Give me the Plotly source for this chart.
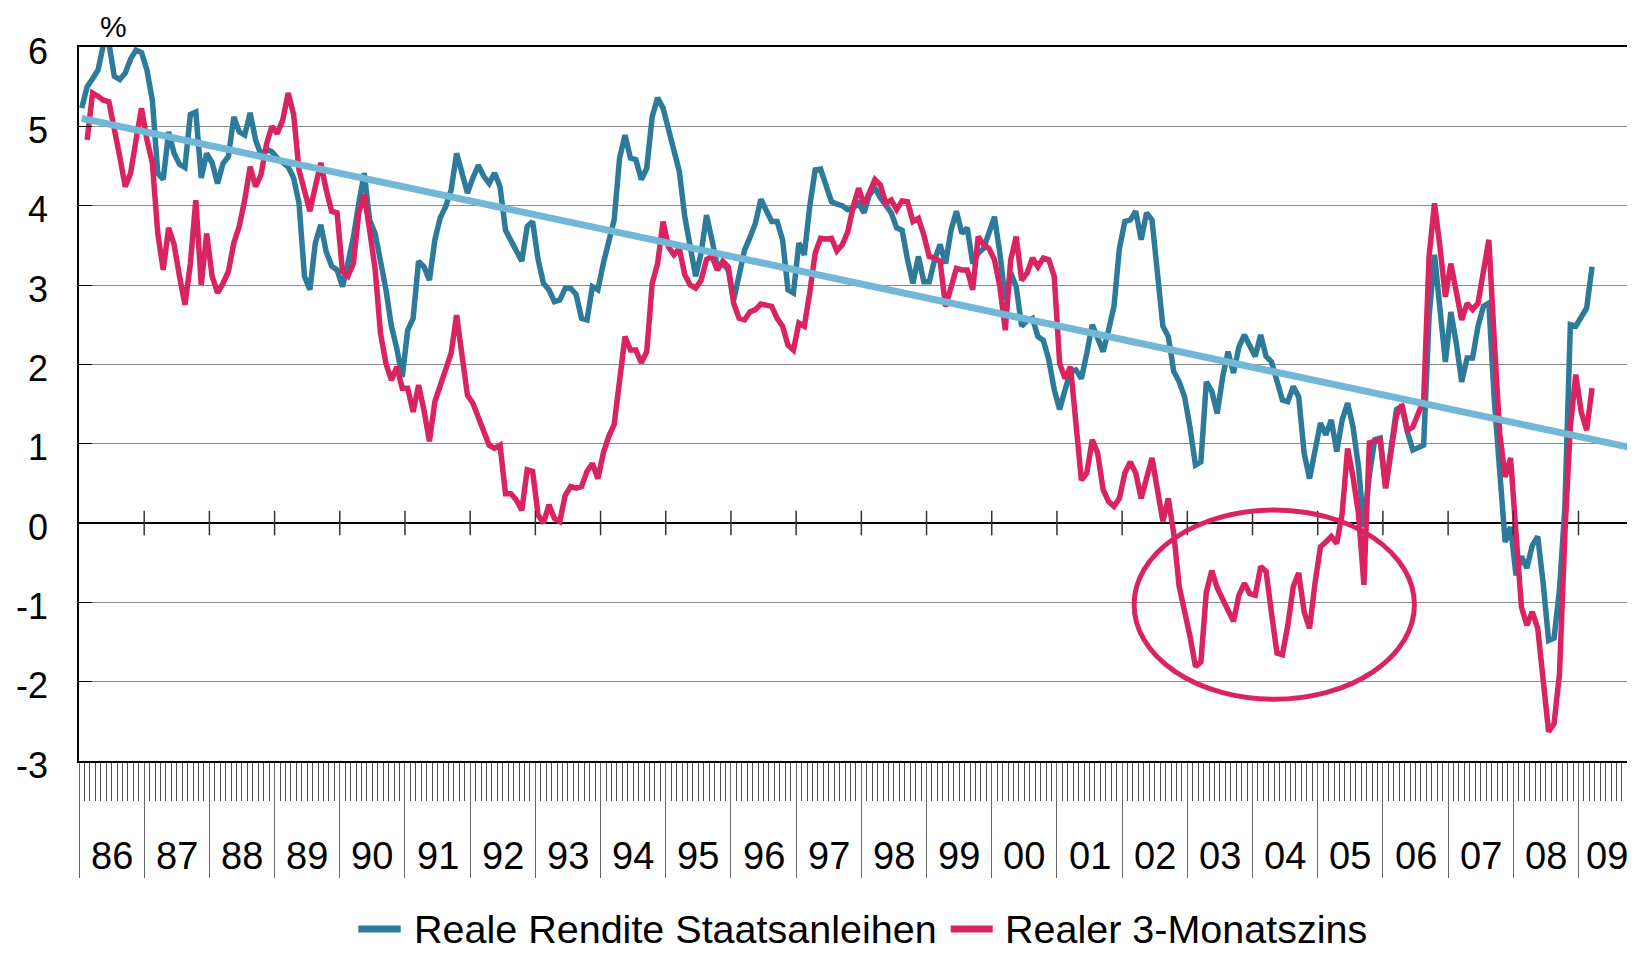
import pandas as pd
import plotly.graph_objects as go

# ---------------- data ----------------
# Reale Rendite Staatsanleihen, monthly from Jan 1986
blue_vals = [
    5.23, 5.50, 5.60, 5.71, 6.03, 6.05, 5.63, 5.59, 5.67, 5.85, 5.96, 5.93,
    5.71, 5.33, 4.41, 4.33, 4.93, 4.66, 4.52, 4.48, 5.15, 5.18, 4.35, 4.66,
    4.54, 4.28, 4.53, 4.62, 5.12, 4.93, 4.89, 5.17, 4.83, 4.64, 4.71, 4.68,
    4.60, 4.55, 4.49, 4.35, 4.03, 3.11, 2.94, 3.53, 3.76, 3.42, 3.24, 3.19,
    2.98, 3.28, 3.60, 4.03, 4.41, 3.82, 3.65, 3.30, 2.94, 2.48, 2.20, 1.84,
    2.43, 2.58, 3.30, 3.23, 3.06, 3.57, 3.85, 3.99, 4.20, 4.66, 4.40, 4.16,
    4.35, 4.51, 4.37, 4.28, 4.41, 4.24, 3.69, 3.55, 3.44, 3.30, 3.74, 3.80,
    3.32, 3.02, 2.94, 2.79, 2.81, 2.96, 2.96, 2.88, 2.58, 2.56, 2.98, 2.94,
    3.27, 3.57, 3.82, 4.60, 4.89, 4.60, 4.58, 4.33, 4.47, 5.12, 5.36, 5.23,
    4.95, 4.66, 4.43, 3.86, 3.45, 3.11, 3.40, 3.88, 3.57, 3.23, 3.27, 3.19,
    2.81, 3.11, 3.44, 3.60, 3.78, 4.08, 3.95, 3.80, 3.80, 3.57, 2.94, 2.90,
    3.53, 3.38, 3.99, 4.45, 4.46, 4.26, 4.05, 4.02, 4.00, 3.95, 3.97, 4.03,
    3.91, 4.14, 4.22, 4.10, 4.01, 3.91, 3.72, 3.69, 3.32, 3.02, 3.36, 3.04,
    3.04, 3.32, 3.51, 3.27, 3.69, 3.93, 3.65, 3.72, 3.27, 3.40, 3.46, 3.65,
    3.86, 3.40, 2.81, 3.15, 2.98, 2.48, 2.55, 2.58, 2.35, 2.30, 2.06, 1.68,
    1.43, 1.68, 1.91, 1.93, 1.82, 2.14, 2.50, 2.33, 2.16, 2.43, 2.73, 3.46,
    3.80, 3.82, 3.93, 3.57, 3.91, 3.82, 3.11, 2.48, 2.35, 1.91, 1.78, 1.59,
    1.20, 0.73, 0.77, 1.78, 1.66, 1.38, 1.84, 2.16, 1.89, 2.22, 2.37, 2.24,
    2.10, 2.37, 2.10, 2.03, 1.76, 1.55, 1.53, 1.72, 1.59, 0.88, 0.56, 0.92,
    1.26, 1.11, 1.30, 0.90, 1.30, 1.51, 1.21, 0.71, -0.05, 0.60, 1.05, 1.07,
    0.44, 0.94, 1.43, 1.47, 1.15, 0.92, 0.96, 0.98, 2.60, 3.38, 2.70, 2.03,
    2.66, 2.27, 1.78, 2.08, 2.08, 2.48, 2.73, 2.77, 1.55, 0.58, -0.24, -0.05,
    -0.66, -0.42, -0.57, -0.28, -0.17, -0.76, -1.48, -1.45, -0.84, 0.21, 2.50, 2.48,
    2.58, 2.71, 3.23,
]
blue_start = "1986-01-01"

# Realer 3-Monatszins, monthly from Feb 1986
red_vals = [
    4.83, 5.42, 5.38, 5.33, 5.31, 5.00, 4.62, 4.24, 4.41, 4.83, 5.23,
    4.83, 4.54, 3.65, 3.19, 3.72, 3.51, 3.11, 2.75, 3.27, 4.07, 3.00, 3.65,
    3.11, 2.90, 3.02, 3.17, 3.53, 3.74, 4.07, 4.49, 4.24, 4.39, 4.77, 5.00,
    4.91, 5.08, 5.42, 5.15, 4.45, 4.16, 3.93, 4.24, 4.54, 4.20, 3.93, 3.91,
    3.17, 3.11, 3.27, 3.91, 4.14, 3.69, 3.20, 2.39, 2.01, 1.80, 1.97, 1.70,
    1.70, 1.40, 1.74, 1.42, 1.03, 1.53, 1.74, 1.93, 2.14, 2.62, 2.12, 1.61,
    1.51, 1.32, 1.17, 0.98, 0.94, 0.98, 0.37, 0.37, 0.29, 0.16, 0.67, 0.65,
    0.10, 0.00, 0.23, 0.06, 0.02, 0.35, 0.46, 0.44, 0.46, 0.65, 0.75, 0.56,
    0.88, 1.09, 1.24, 1.84, 2.35, 2.18, 2.18, 2.02, 2.16, 3.02, 3.27, 3.80,
    3.48, 3.38, 3.46, 3.13, 3.00, 2.96, 3.06, 3.32, 3.36, 3.19, 3.30, 3.23,
    2.77, 2.58, 2.56, 2.66, 2.69, 2.76, 2.75, 2.73, 2.58, 2.48, 2.24, 2.18,
    2.52, 2.48, 2.90, 3.40, 3.59, 3.58, 3.59, 3.43, 3.51, 3.67, 3.99, 4.22,
    4.01, 4.18, 4.33, 4.26, 4.03, 4.07, 3.95, 4.06, 4.05, 3.80, 3.84, 3.63,
    3.36, 3.34, 3.30, 2.73, 2.96, 3.21, 3.19, 3.19, 2.94, 3.61, 3.51, 3.46,
    3.32, 2.98, 2.43, 3.32, 3.61, 3.06, 3.15, 3.34, 3.23, 3.34, 3.32, 3.11,
    2.01, 1.82, 1.97, 1.26, 0.54, 0.63, 1.05, 0.88, 0.42, 0.27, 0.21, 0.31,
    0.63, 0.77, 0.63, 0.31, 0.58, 0.82, 0.42, 0.02, 0.31, -0.13, -0.80, -1.10,
    -1.43, -1.81, -1.75, -0.87, -0.60, -0.82, -0.95, -1.10, -1.24, -0.91, -0.76, -0.89,
    -0.91, -0.55, -0.61, -1.14, -1.64, -1.66, -1.29, -0.80, -0.63, -1.12, -1.33, -0.76,
    -0.30, -0.24, -0.17, -0.26, 0.12, 0.94, 0.58, 0.12, -0.78, 1.01, 1.03, 1.05,
    0.44, 0.92, 1.36, 1.49, 1.17, 1.21, 1.36, 1.55, 3.36, 4.03, 3.48, 2.85,
    3.27, 2.94, 2.56, 2.77, 2.69, 2.77, 3.17, 3.57, 2.30, 1.13, 0.58, 0.82,
    -0.13, -1.06, -1.29, -1.12, -1.33, -2.02, -2.63, -2.53, -1.90, -0.13, 1.21, 1.87,
    1.40, 1.17, 1.70,
]
red_start = "1986-02-01"

# Trend line: value at its start (Jan 1986) and at the right edge of the chart
trend_vals = [5.10, 0.94]

year_labels = ["86", "87", "88", "89", "90", "91", "92", "93", "94", "95", "96", "97",
               "98", "99", "00", "01", "02", "03", "04", "05", "06", "07", "08", "09"]

y_ticks = [-3, -2, -1, 0, 1, 2, 3, 4, 5, 6]
y_tick_text = ["-3", "-2", "-1", "0", "1", "2", "3", "4", "5", "6"]

series_names = ["Reale Rendite Staatsanleihen", "Realer 3-Monatszins"]

# ---------------- styling ----------------
C_BLUE = "#2E7A9A"
C_RED = "#DA2462"
C_TREND = "#72B8D6"
FONT = "Liberation Sans, Arial, sans-serif"

PAGE_OFF = 8                      # default body margin of the page
W, H = 1635 - PAGE_OFF, 953 - PAGE_OFF
PLOT_L, PLOT_T, PLOT_B = 79, 47, 761   # plot box in page pixels
ML, MT = PLOT_L - PAGE_OFF, PLOT_T - PAGE_OFF
MR = 0
MB = (953 - PLOT_B)
PW = 1635 - PLOT_L
PH = PLOT_B - PLOT_T
X_MAX = 286.4          # months from Jan 1986 to the right edge


def month_pos(dates):
    return [(d.year - 1986) * 12 + (d.month - 1) + 0.5 for d in dates]


blue_x = month_pos(pd.date_range(blue_start, periods=len(blue_vals), freq="MS"))
red_x = month_pos(pd.date_range(red_start, periods=len(red_vals), freq="MS"))
trend_x = [0.5, X_MAX]


def px_to_paper_x(px):
    return (px - PLOT_L) / PW


def px_to_paper_y(py):
    return (PLOT_B - py) / PH


fig = go.Figure()
fig.add_trace(go.Scatter(x=blue_x, y=blue_vals, mode="lines", name=series_names[0],
                         line=dict(color=C_BLUE, width=5.5), showlegend=False))
fig.add_trace(go.Scatter(x=red_x, y=red_vals, mode="lines", name=series_names[1],
                         line=dict(color=C_RED, width=5.5), showlegend=False))
fig.add_trace(go.Scatter(x=trend_x, y=trend_vals, mode="lines", name="Trend",
                         line=dict(color=C_TREND, width=7), showlegend=False))

shapes = []
# year ticks crossing the zero line
n_years = len(year_labels)
for k in range(1, n_years):
    shapes.append(dict(type="line", xref="x", yref="y", x0=k * 12, x1=k * 12,
                       y0=-0.155, y1=0.155, line=dict(color="#333333", width=1.5)))
# highlight ellipse
shapes.append(dict(type="circle", xref="x", yref="y", x0=194.2, x1=245.8,
                   y0=-2.222, y1=0.164, line=dict(color=C_RED, width=5),
                   fillcolor="rgba(0,0,0,0)"))
# legend symbols
legend_items = [(358.3, 400.7, C_BLUE, 412.7), (950.7, 992.7, C_RED, 1004.0)]
for (x0, x1, col, _tx) in legend_items:
    shapes.append(dict(type="line", xref="paper", yref="paper",
                       x0=px_to_paper_x(x0), x1=px_to_paper_x(x1),
                       y0=px_to_paper_y(929), y1=px_to_paper_y(929),
                       line=dict(color=col, width=7)))

annotations = []
for k, lab in enumerate(year_labels):
    xc = k * 12 + 6 if k < n_years - 1 else (k * 12 + X_MAX) / 2
    annotations.append(dict(x=xc, y=px_to_paper_y(856), xref="x", yref="paper",
                            text=lab, showarrow=False, xanchor="center", yanchor="middle",
                            font=dict(family=FONT, size=38, color="black")))
annotations.append(dict(x=px_to_paper_x(113), y=px_to_paper_y(9), xref="paper", yref="paper",
                        text="%", showarrow=False, xanchor="center", yanchor="top",
                        borderpad=0, font=dict(family=FONT, size=30, color="black")))
for (x0, x1, col, tx), name in zip(legend_items, series_names):
    annotations.append(dict(x=px_to_paper_x(tx), y=px_to_paper_y(952), xref="paper", yref="paper",
                            text=name, showarrow=False, xanchor="left", yanchor="bottom",
                            borderpad=0, font=dict(family=FONT, size=39.5, color="black")))

fig.update_layout(
    width=W, height=H,
    margin=dict(l=ML, r=MR, t=MT, b=MB, pad=0),
    paper_bgcolor="white", plot_bgcolor="white",
    font=dict(family=FONT, color="black"),
    showlegend=False,
    shapes=shapes,
    annotations=annotations,
    xaxis=dict(
        range=[0, X_MAX], tickmode="linear", tick0=0, dtick=12,
        ticks="outside", ticklen=115, tickcolor="#666666", tickwidth=1,
        showticklabels=False, showgrid=False, zeroline=False,
        showline=True, linecolor="black", linewidth=1.5, mirror=True,
        minor=dict(tickmode="linear", tick0=0, dtick=1, ticks="outside",
                   ticklen=38, tickcolor="#505050", tickwidth=1, showgrid=False),
    ),
    yaxis=dict(
        range=[-3, 6], tickmode="array", tickvals=y_ticks, ticktext=y_tick_text,
        ticks="inside", ticklen=13, tickcolor="black", tickwidth=1,
        showline=True, linecolor="black", linewidth=1.5,
        showgrid=True, gridcolor="#8c8c8c", gridwidth=1,
        zeroline=True, zerolinecolor="black", zerolinewidth=1.5,
        tickfont=dict(family=FONT, size=36, color="black"),
        ticklabelstandoff=22, ticklabelshift=4,
    ),
)

fig.write_html("out.html")
